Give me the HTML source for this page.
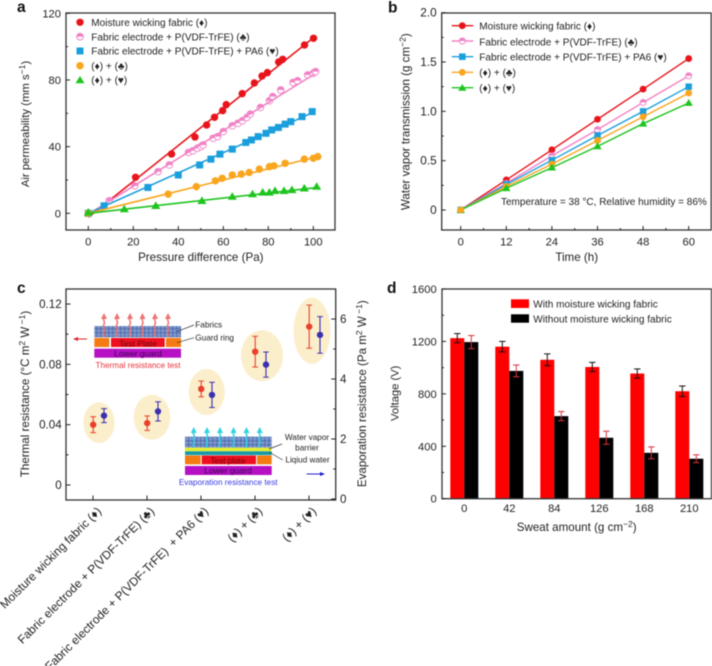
<!DOCTYPE html>
<html lang="en">
<head>
<meta charset="utf-8">
<title>Fabric permeability, thermal resistance and voltage charts</title>
<style>
html,body{margin:0;padding:0;background:#fff;}
svg{display:block;filter:blur(0.4px);}
text{font-family:"Liberation Sans","DejaVu Sans",sans-serif;fill:#222;}
.frame{fill:none;stroke:#333;stroke-width:1.3;}
.tick{stroke:#222;stroke-width:1;}
.lg{font-size:10.05px;}
.pl{font-size:15.5px;font-weight:bold;fill:#111;}
.ti{font-size:11.6px;}
.tia{font-size:11.35px;}
.cat{font-size:11.9px;}
</style>
</head>
<body>
<svg id="root" xmlns="http://www.w3.org/2000/svg" width="712" height="666" viewBox="0 0 712 666">
<defs>
<pattern id="fabric" width="4" height="4" patternUnits="userSpaceOnUse">
<rect width="4" height="4" fill="#6a86c0"/>
<rect x="0" y="0" width="1.5" height="1.5" fill="#4c68a8"/>
<rect x="2" y="2" width="1.5" height="1.5" fill="#93a9d4"/>
</pattern>
<g id="heat-arrow-red">
<path d="M0,4 c-2,3 2,5 0,7 c-2,3 2,5 0,7 c-1,2 0,4 0,6" fill="none" stroke="#ee7272" stroke-width="1.5"/>
<path d="M-3,6 L0,0 L3,6 Z" fill="#ee7272"/>
</g>
<g id="heat-arrow-cyan">
<path d="M0,4 c-2,3 2,4 0,6 c-2,3 2,4 0,6 c-1,2 0,3 0,5" fill="none" stroke="#2fd3e2" stroke-width="1.5"/>
<path d="M-3,6 L0,0 L3,6 Z" fill="#2fd3e2"/>
</g>
</defs>

<!-- Panel letters -->
<text class="pl" x="17" y="12">a</text>
<text class="pl" x="388" y="12.5">b</text>
<text class="pl" x="17" y="293">c</text>
<text class="pl" x="387" y="293">d</text>

<!-- Panel A -->
<g id="panel-a">
<rect class="frame" x="66" y="13" width="269" height="217"/>
<g id="a-axes"></g>
<g id="a-marks"></g>
<text class="ti" text-anchor="middle" x="200.8" y="261">Pressure difference (Pa)</text>
<text class="tia" text-anchor="middle" transform="translate(29,124) rotate(-90)">Air permeability (mm s<tspan dy="-4" font-size="8.5">−1</tspan><tspan dy="4">)</tspan></text>
<g>
<circle cx="80" cy="22.3" r="3.7" fill="#e8141c"/>
<text class="lg" x="91.3" y="26">Moisture wicking fabric (♦)</text>
<circle cx="80" cy="36.7" r="3.3" fill="#fff" stroke="#f183c6" stroke-width="1"/>
<path d="M76.3,36.7 A3.7,3.7 0 0 1 83.7,36.7 Z" fill="#f183c6"/>
<text class="lg" x="91.3" y="40.4">Fabric electrode + P(VDF-TrFE) (♣)</text>
<rect x="76.5" y="47.5" width="7" height="7" fill="#1b9fdc"/>
<text class="lg" x="91.3" y="54.7">Fabric electrode + P(VDF-TrFE) + PA6 (♥)</text>
<circle cx="80" cy="65.7" r="3.7" fill="#f9a61f"/>
<text class="lg" x="91.3" y="69.4">(♦) + (♣)</text>
<path d="M80,76 L84.5,83.3 L75.5,83.3 Z" fill="#1fc41f"/>
<text class="lg" x="91.3" y="83.7">(♦) + (♥)</text>
</g>
</g>

<!-- Panel B -->
<g id="panel-b">
<rect class="frame" x="441.7" y="13" width="269.5" height="217"/>
<g id="b-axes"></g>
<g id="b-marks"></g>
<text class="ti" text-anchor="middle" x="576.7" y="261">Time (h)</text>
<text class="ti" text-anchor="middle" transform="translate(409.5,121.7) rotate(-90)">Water vapor transmission (g cm<tspan dy="-4" font-size="8.5">−2</tspan><tspan dy="4">)</tspan></text>
<text x="501" y="205" font-size="10">Temperature = 38 °C, Relative humidity = 86%</text>
<g>
<line x1="451.7" x2="473.3" y1="25.7" y2="25.7" stroke="#e8141c" stroke-width="1.4"/>
<circle cx="462.3" cy="25.7" r="3.4" fill="#e8141c"/>
<text class="lg" x="479.3" y="29.4">Moisture wicking fabric (♦)</text>
<line x1="451.7" x2="473.3" y1="41" y2="41" stroke="#f183c6" stroke-width="1.4"/>
<circle cx="462.3" cy="41" r="3" fill="#fff" stroke="#f183c6"/>
<path d="M458.9,41 A3.4,3.4 0 0 1 465.7,41 Z" fill="#f183c6"/>
<text class="lg" x="479.3" y="45.5">Fabric electrode + P(VDF-TrFE) (♣)</text>
<line x1="451.7" x2="473.3" y1="56.7" y2="56.7" stroke="#1b9fdc" stroke-width="1.4"/>
<rect x="459" y="53.4" width="6.6" height="6.6" fill="#1b9fdc"/>
<text class="lg" x="479.3" y="60.6">Fabric electrode + P(VDF-TrFE) + PA6 (♥)</text>
<line x1="451.7" x2="473.3" y1="72.3" y2="72.3" stroke="#f9a61f" stroke-width="1.4"/>
<circle cx="462.3" cy="72.3" r="3.4" fill="#f9a61f"/>
<text class="lg" x="479.3" y="76">(♦) + (♣)</text>
<line x1="451.7" x2="473.3" y1="87.7" y2="87.7" stroke="#1fc41f" stroke-width="1.4"/>
<path d="M462.3,84 L466.5,90.8 L458.1,90.8 Z" fill="#1fc41f"/>
<text class="lg" x="479.3" y="91.4">(♦) + (♥)</text>
</g>
</g>

<!-- Panel C -->
<g id="panel-c">
<g fill="#fbeecb">
<ellipse cx="99" cy="422.7" rx="15.7" ry="20.3"/>
<ellipse cx="152" cy="417.3" rx="18.3" ry="22.5"/>
<ellipse cx="206.7" cy="392" rx="18" ry="23"/>
<ellipse cx="262" cy="355.7" rx="21" ry="25.5"/>
<ellipse cx="312" cy="330.7" rx="18.5" ry="33"/>
</g>
<rect class="frame" x="66" y="289" width="269.7" height="211"/>
<g id="c-axes"></g>
<g id="c-marks"></g>

<g>
<rect x="94.3" y="326" width="86.7" height="11.3" fill="url(#fabric)"/>
<rect x="94.3" y="338" width="15" height="9" fill="#f47a12"/>
<rect x="111" y="338" width="53.7" height="9" fill="#ee1020"/>
<rect x="166" y="338" width="15" height="9" fill="#f47a12"/>
<rect x="94.3" y="348.7" width="86.7" height="9" fill="#b60fc4"/>
<use href="#heat-arrow-red" x="104" y="313"/>
<use href="#heat-arrow-red" x="117" y="313"/>
<use href="#heat-arrow-red" x="130" y="313"/>
<use href="#heat-arrow-red" x="142.5" y="313"/>
<use href="#heat-arrow-red" x="155" y="313"/>
<use href="#heat-arrow-red" x="168" y="313"/>
<text font-size="8.6" text-anchor="middle" x="138" y="346.3" style="fill:#6a0610">Test Plate</text>
<text font-size="8.6" text-anchor="middle" x="138" y="356.3" style="fill:#3a0a50">Lower guard</text>
<text font-size="8.2" text-anchor="middle" x="138" y="368" style="fill:#e8333a">Thermal resistance test</text>
<text font-size="8.2" x="195.3" y="327.5">Fabrics</text>
<text font-size="8.2" x="195.3" y="340.3">Guard ring</text>
<line x1="176.7" y1="331.7" x2="194" y2="325" stroke="#333" stroke-width="0.7"/>
<line x1="177" y1="342.7" x2="194" y2="337.7" stroke="#333" stroke-width="0.7"/>
<line x1="76" y1="339" x2="87" y2="339" stroke="#e0202a" stroke-width="1"/>
<path d="M73,339 L78,337 L78,341 Z" fill="#e0202a"/>
</g>

<g>
<rect x="185" y="436.7" width="86.7" height="11" fill="url(#fabric)"/>
<rect x="185" y="447.7" width="86.7" height="3.6" fill="#e6ee30"/>
<rect x="185" y="451.3" width="86.7" height="3.8" fill="#169aa8"/>
<rect x="185" y="455.5" width="15.7" height="8.8" fill="#f47a12"/>
<rect x="201.7" y="455.5" width="54.3" height="8.8" fill="#ee1020"/>
<rect x="257" y="455.5" width="14.7" height="8.8" fill="#f47a12"/>
<rect x="185" y="466" width="86.7" height="9" fill="#b60fc4"/>
<use href="#heat-arrow-cyan" x="193.7" y="427"/>
<use href="#heat-arrow-cyan" x="207" y="427"/>
<use href="#heat-arrow-cyan" x="220" y="427"/>
<use href="#heat-arrow-cyan" x="233.5" y="427"/>
<use href="#heat-arrow-cyan" x="246.5" y="427"/>
<use href="#heat-arrow-cyan" x="259.7" y="427"/>
<text font-size="8.2" text-anchor="middle" x="228" y="463.3" style="fill:#6a0610">Test plate</text>
<text font-size="8.6" text-anchor="middle" x="228" y="473.5" style="fill:#3a0a50">Lower guard</text>
<text font-size="8.2" text-anchor="middle" x="228.2" y="485" style="fill:#3a3ae0">Evaporation resistance test</text>
<text font-size="8.2" text-anchor="middle" x="307" y="440">Water vapor</text>
<text font-size="8.2" text-anchor="middle" x="307" y="450.7">barrier</text>
<text font-size="8.2" text-anchor="middle" x="307.5" y="462.7">Liqiud water</text>
<line x1="269" y1="449" x2="282" y2="444" stroke="#333" stroke-width="0.7"/>
<line x1="269" y1="452" x2="282.7" y2="460" stroke="#333" stroke-width="0.7"/>
<line x1="306.7" y1="474" x2="321" y2="474" stroke="#2020d0" stroke-width="1"/>
<path d="M325,474 L320,472 L320,476 Z" fill="#2020d0"/>
</g>

<text class="ti" text-anchor="middle" transform="translate(29,394) rotate(-90)">Thermal resistance (°C m<tspan dy="-4" font-size="8.5">2</tspan><tspan dy="4"> W</tspan><tspan dy="-4" font-size="8.5"> −1</tspan><tspan dy="4">)</tspan></text>
<text class="ti" text-anchor="middle" transform="translate(366,393.7) rotate(-90)">Evaporation resistance (Pa m<tspan dy="-4" font-size="8.5">2</tspan><tspan dy="4"> W</tspan><tspan dy="-4" font-size="8.5"> −1</tspan><tspan dy="4">)</tspan></text>
<text class="cat" text-anchor="end" transform="translate(102,512) rotate(-45)">Moisture wicking fabric (♦)</text>
<text class="cat" text-anchor="end" transform="translate(155,512) rotate(-45)">Fabric electrode + P(VDF-TrFE) (♣)</text>
<text class="cat" text-anchor="end" transform="translate(209,512) rotate(-45)" xml:space="preserve">Fabric electrode + P(VDF-TrFE)  + PA6 (♥)</text>
<text class="cat" text-anchor="end" transform="translate(263,512) rotate(-45)">(♦) + (♣)</text>
<text class="cat" text-anchor="end" transform="translate(317,512) rotate(-45)">(♦) + (♥)</text>
</g>

<!-- Panel D -->
<g id="panel-d">
<g id="d-marks"></g>
<rect class="frame" x="442" y="289" width="269.5" height="209.7"/>
<g id="d-axes"></g>
<text class="ti" text-anchor="middle" x="576.7" y="531">Sweat amount (g cm<tspan dy="-4" font-size="8.5">−2</tspan><tspan dy="4">)</tspan></text>
<text font-size="11.2" text-anchor="middle" transform="translate(398.3,393.3) rotate(-90)">Voltage (V)</text>
<g>
<rect x="511" y="299.3" width="18" height="8.7" fill="#fe0000"/>
<text class="lg" x="533.3" y="307.5">With moisture wicking fabric</text>
<rect x="511" y="314.3" width="18" height="8.4" fill="#000"/>
<text class="lg" x="533.3" y="322.5">Without moisture wicking fabric</text>
</g>
</g>

<script>
/* ---------- Panel A data ---------- */
const aRedX = [21,37,47.4,52.6,56.1,59.7,61.3,68.4,73.8,77.2,79.6,84.6,86.4,96.1,100.1];
const aRedY = [21.6,35.6,45.8,53,57.6,61.6,65.2,71.8,78.2,82.4,84.4,90.8,92.4,101,105];
const aPinkX = [0,9.3,20.6,31,36,44.5,46.5,48.5,50,51,55.5,57.5,60,64,66.5,68.5,70.5,72,76.5,80.5,82,85.5,91,93,97.5,100,101];
const aPinkY = [0,7.5,16.5,25,29,36.5,37.5,39,40,41,45,46,49,52.5,54,55.5,57.5,59.5,63.5,67.5,70,74,78.5,79.5,83,84,85];
const aBlueX = [0,7,26.5,40,49.5,54.5,58.5,64,70,72.5,75.5,79,81.5,84.5,87.5,90,95,99.5];
const aBlueY = [0,4.5,15.5,23,29,32.5,35.5,38.5,42.5,44,46,48,50,51.5,53.5,55,58,61];
const aOrangeX = [0,35.5,48,56.5,59.5,64,68,71.5,76,80.5,82.5,87.5,96,100,102];
const aOrangeY = [0,11.5,16,19.5,21,23,23.5,24.5,26.5,28,28.5,30,32.5,33,34];
const aGreenX = [0,16,30,50.5,64,73,77.5,80.5,83,87,90.5,96,101.5];
const aGreenY = [0.5,2.5,4.5,7.5,10,11.5,12.5,12.5,13.5,13.5,14,15,16];
const aRedFitX = [0,100.7];
const aRedFitY = [-2.4,106];
const aPinkFitX = [0,100.5];
const aPinkFitY = [-0.5,83.5];
const aBlueFitX = [0,99];
const aBlueFitY = [0,60];
const aOrangeFitX = [0,102];
const aOrangeFitY = [0,34];
const aGreenFitX = [0,102];
const aGreenFitY = [0,15.5];
const aXTicks = [0,20,40,60,80,100];
const aXMinor = [10,30,50,70,90];
const aYTicks = [0,40,80,120];
const aYMinor = [20,60,100];

/* ---------- Panel B data ---------- */
const bTime = [0,12,24,36,48,60];
const bRed = [0,0.305,0.61,0.92,1.225,1.535];
const bPink = [0,0.27,0.55,0.815,1.09,1.36];
const bBlue = [0,0.26,0.505,0.755,1.0,1.25];
const bOrange = [0,0.24,0.465,0.705,0.945,1.185];
const bGreen = [0,0.22,0.43,0.645,0.875,1.085];
const bXMinor = [6,18,30,42,54];
const bYTicks = ['0','0.5','1.0','1.5','2.0'];
const bYMinor = [0.25,0.75,1.25,1.75];

/* ---------- Panel C data ---------- */
const cCategories = [0,1,2,3,4];
const cThermal = [0.040,0.041,0.0637,0.0884,0.105];
const cThermalErr = [0.0053,0.0048,0.0052,0.0102,0.0143];
const cEvap = [2.78,2.92,3.47,4.48,5.47];
const cEvapErr = [0.233,0.32,0.42,0.42,0.61];
const cLeftTicks = ['0','0.04','0.08','0.12'];
const cLeftMinor = [0.02,0.06,0.1];
const cRightTicks = [0,2,4,6];
const cRightMinor = [1,3,5];

/* ---------- Panel D data ---------- */
const dSweat = ['0','42','84','126','168','210'];
const dWith = [1225,1160,1060,1005,955,820];
const dWithErr = [35,40,45,35,35,40];
const dWithout = [1195,975,630,465,350,305];
const dWithoutErr = [50,45,35,50,45,30];
const dYTicks = [0,400,800,1200,1600];
const dYMinor = [200,600,1000,1400];

/* ---------- Axis functions ---------- */
const xa = v => 88.3 + v * 2.25;
const ya = v => 213.3 - v * 1.6667;
const xb = v => 460.7 + v * 3.8;
const yb = v => 210 - v * 98.65;
const xc = i => 93 + i * 54;
const ycL = v => 485 - v * 1508;
const ycR = v => 499 - v * 30;
const xd = i => 464.3 + i * 45;
const yd = v => 498.7 - v * 0.13106;

const NS = 'http://www.w3.org/2000/svg';
function mk(tag, attrs, parent, name) {
  const el = document.createElementNS(NS, tag);
  for (const k in attrs) el.setAttribute(k, attrs[k]);
  
  
  parent.appendChild(el);
  return el;
}
function tickLine(p, x1, y1, x2, y2, name) {
  mk('line', {x1, y1, x2, y2, class: 'tick'}, p, name);
}
function label(p, x, y, s, size, anchor, name) {
  const t = mk('text', {x, y, 'font-size': size, 'text-anchor': anchor}, p, name);
  t.textContent = s;
}

/* marker drawing */
function marker(kind, p, x, y, color, name, r) {
  if (kind === 'circle') {
    mk('circle', {cx: x, cy: y, r: r, fill: color}, p, name);
  } else if (kind === 'half') {
    mk('circle', {cx: x, cy: y, r: r - 0.4, fill: '#fff', stroke: color, 'stroke-width': 0.9}, p, name);
    mk('path', {d: 'M' + (x - r) + ',' + y + ' A' + r + ',' + r + ' 0 0 1 ' + (x + r) + ',' + y + ' Z', fill: color}, p, name + '-fill');
  } else if (kind === 'square') {
    mk('rect', {x: x - r * 0.95, y: y - r * 0.95, width: r * 1.9, height: r * 1.9, fill: color}, p, name);
  } else {
    mk('path', {d: 'M' + x + ',' + (y - r * 1.2) + ' L' + (x + r * 1.22) + ',' + (y + r * 0.85) + ' L' + (x - r * 1.22) + ',' + (y + r * 0.85) + ' Z', fill: color}, p, name);
  }
}

/* ---------- Draw panel A ---------- */
(function () {
  const ax = document.getElementById('a-axes');
  const g = document.getElementById('a-marks');
  aXTicks.forEach(v => {
    tickLine(ax, xa(v), 230, xa(v), 226, 'x-tick-a');
    label(ax, xa(v), 245.5, String(v), 11.2, 'middle', 'x-tick-label-a');
  });
  aXMinor.forEach(v => tickLine(ax, xa(v), 230, xa(v), 228, 'x-minor-tick-a'));
  aYTicks.forEach(v => {
    tickLine(ax, 66, ya(v), 70, ya(v), 'y-tick-a');
    label(ax, 61, ya(v) + 4, String(v), 11.2, 'end', 'y-tick-label-a');
  });
  aYMinor.forEach(v => tickLine(ax, 66, ya(v), 68, ya(v), 'y-minor-tick-a'));
  const series = [
    ['moisture', aRedX, aRedY, aRedFitX, aRedFitY, '#e8141c', 'circle'],
    ['pvdf', aPinkX, aPinkY, aPinkFitX, aPinkFitY, '#f183c6', 'half'],
    ['pvdf-pa6', aBlueX, aBlueY, aBlueFitX, aBlueFitY, '#1b9fdc', 'square'],
    ['moisture-pvdf', aOrangeX, aOrangeY, aOrangeFitX, aOrangeFitY, '#f9a61f', 'circle'],
    ['moisture-pa6', aGreenX, aGreenY, aGreenFitX, aGreenFitY, '#1fc41f', 'tri']
  ];
  series.forEach(s => {
    s[1].forEach((x, i) => marker(s[6], g, xa(x), ya(s[2][i]), s[5], 'point-' + s[0], 3.7));
    mk('line', {x1: xa(s[3][0]), y1: ya(s[4][0]), x2: xa(s[3][1]), y2: ya(s[4][1]), stroke: s[5], 'stroke-width': 1.6}, g, 'fit-line-' + s[0]);
  });
})();

/* ---------- Draw panel B ---------- */
(function () {
  const ax = document.getElementById('b-axes');
  const g = document.getElementById('b-marks');
  bTime.forEach(v => {
    tickLine(ax, xb(v), 230, xb(v), 226, 'x-tick-b');
    label(ax, xb(v), 245.5, String(v), 11.2, 'middle', 'x-tick-label-b');
  });
  bXMinor.forEach(v => tickLine(ax, xb(v), 230, xb(v), 228, 'x-minor-tick-b'));
  bYTicks.forEach(s => {
    const v = parseFloat(s);
    tickLine(ax, 441.7, yb(v), 445.7, yb(v), 'y-tick-b');
    label(ax, 436.7, yb(v) + 4, s, 11.8, 'end', 'y-tick-label-b');
  });
  bYMinor.forEach(v => tickLine(ax, 441.7, yb(v), 443.7, yb(v), 'y-minor-tick-b'));
  const series = [
    ['moisture', bRed, '#e8141c', 'circle'],
    ['pvdf', bPink, '#f183c6', 'half'],
    ['pvdf-pa6', bBlue, '#1b9fdc', 'square'],
    ['moisture-pvdf', bOrange, '#f9a61f', 'circle'],
    ['moisture-pa6', bGreen, '#1fc41f', 'tri']
  ];
  series.forEach(s => {
    const pts = bTime.map((t, i) => xb(t) + ',' + yb(s[1][i])).join(' ');
    mk('polyline', {points: pts, fill: 'none', stroke: s[2], 'stroke-width': 1.4}, g, 'line-' + s[0]);
    bTime.forEach((t, i) => marker(s[3], g, xb(t), yb(s[1][i]), s[2], 'point-' + s[0], 3.4));
  });
  /* the origin point is drawn last in orange in the reference */
  marker('circle', g, xb(bTime[0]), yb(bOrange[0]), '#f9a61f', 'point-origin', 3.4);
})();

/* ---------- Draw panel C ---------- */
(function () {
  const ax = document.getElementById('c-axes');
  const g = document.getElementById('c-marks');
  cCategories.forEach(i => tickLine(ax, xc(i), 500, xc(i), 495.5, 'x-tick-c'));
  cLeftTicks.forEach(s => {
    const v = parseFloat(s);
    tickLine(ax, 66, ycL(v), 70.5, ycL(v), 'left-tick-c');
    label(ax, 61.7, ycL(v) + 4, s, 11.6, 'end', 'left-tick-label-c');
  });
  cLeftMinor.forEach(v => tickLine(ax, 66, ycL(v), 68.5, ycL(v), 'left-minor-tick-c'));
  cRightTicks.forEach(v => {
    tickLine(ax, 335.7, ycR(v), 331.2, ycR(v), 'right-tick-c');
    label(ax, 340, ycR(v) + 4, String(v), 11.6, 'start', 'right-tick-label-c');
  });
  cRightMinor.forEach(v => tickLine(ax, 335.7, ycR(v), 333.2, ycR(v), 'right-minor-tick-c'));
  function drawErr(x, y, lo, hi, color, n) {
    mk('line', {x1: x, x2: x, y1: lo, y2: hi, stroke: color, 'stroke-width': 1.1}, g, 'error-bar-' + n);
    mk('line', {x1: x - 2.8, x2: x + 2.8, y1: lo, y2: lo, stroke: color, 'stroke-width': 1}, g, 'error-cap-' + n);
    mk('line', {x1: x - 2.8, x2: x + 2.8, y1: hi, y2: hi, stroke: color, 'stroke-width': 1}, g, 'error-cap-' + n);
    mk('circle', {cx: x, cy: y, r: 3.2, fill: color}, g, 'point-' + n);
  }
  cCategories.forEach(i => {
    drawErr(xc(i) + 0.2, ycL(cThermal[i]), ycL(cThermal[i] - cThermalErr[i]), ycL(cThermal[i] + cThermalErr[i]), '#e8402a', 'thermal');
    drawErr(xc(i) + 11, ycR(cEvap[i]), ycR(cEvap[i] - cEvapErr[i]), ycR(cEvap[i] + cEvapErr[i]), '#3a30b0', 'evaporation');
  });
})();

/* ---------- Draw panel D ---------- */
(function () {
  const ax = document.getElementById('d-axes');
  const g = document.getElementById('d-marks');
  function err(x, v, e, color, n) {
    mk('line', {x1: x, x2: x, y1: yd(v - e), y2: yd(v + e), stroke: color, 'stroke-width': 1}, g, 'error-bar-' + n);
    mk('line', {x1: x - 3.2, x2: x + 3.2, y1: yd(v - e), y2: yd(v - e), stroke: color, 'stroke-width': 1}, g, 'error-cap-' + n);
    mk('line', {x1: x - 3.2, x2: x + 3.2, y1: yd(v + e), y2: yd(v + e), stroke: color, 'stroke-width': 1}, g, 'error-cap-' + n);
  }
  dSweat.forEach((s, i) => {
    mk('rect', {x: xd(i) - 14, y: yd(dWith[i]), width: 14, height: yd(0) - yd(dWith[i]), fill: '#fe0000'}, g, 'bar-with-fabric-' + s);
    mk('rect', {x: xd(i), y: yd(dWithout[i]), width: 14, height: yd(0) - yd(dWithout[i]), fill: '#000'}, g, 'bar-without-fabric-' + s);
    err(xd(i) - 7, dWith[i], dWithErr[i], '#111', 'with-fabric');
    err(xd(i) + 7, dWithout[i], dWithoutErr[i], '#d8323c', 'without-fabric');
    label(ax, xd(i), 511.8, s, 11.2, 'middle', 'x-tick-label-d');
  });
  dYTicks.forEach(v => {
    tickLine(ax, 442, yd(v), 446, yd(v), 'y-tick-d');
    label(ax, 436.7, yd(v) + 4, String(v), 11.2, 'end', 'y-tick-label-d');
  });
  dYMinor.forEach(v => tickLine(ax, 442, yd(v), 444, yd(v), 'y-minor-tick-d'));
})();
</script>
</svg>
</body>
</html>
